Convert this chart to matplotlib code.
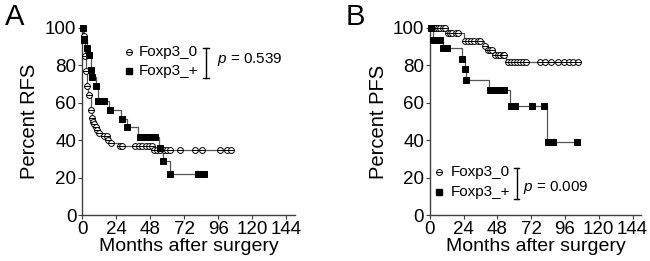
import numpy as np
import matplotlib
matplotlib.use('Agg')
import matplotlib.pyplot as plt
from matplotlib.path import Path

plt.rcParams['font.family'] = ['Liberation Sans', 'DejaVu Sans']
plt.rcParams['mathtext.fontset'] = 'custom'
plt.rcParams['mathtext.rm'] = 'Liberation Sans'
plt.rcParams['mathtext.it'] = 'Liberation Sans:italic'

# 面板 A：RFS
t0_A = [0, 1, 2, 2.5, 3.5, 4.5, 6, 6.8, 7.5, 8.3, 9.3, 10.5, 12, 15, 18, 20, 26, 49.5]
s0_A = [100, 95.5, 85, 77, 69, 64, 56, 52, 50, 48.5, 47, 45.5, 44, 42, 40, 38.3, 36.9, 34.8]
c0_A = [1.4, 2.1, 2.8, 3.8, 5.2, 6.1, 7, 7.8, 8.6, 9.6, 10.8, 12.3, 15.5, 17.5, 18.5, 20.2,
        26.8, 28.5, 37.3, 40, 42.5, 45, 47, 49, 50.5, 53, 55, 57.5, 60, 62, 69, 79.6, 84.3,
        97.2, 102, 104.7]
tp_A = [0, 1.4, 3.3, 5.2, 6.1, 7, 9.9, 11.5, 19.2, 27.7, 31.6, 39.7, 54.5, 56.8, 62]
sp_A = [100, 93.4, 89.3, 85.7, 77.7, 74, 69, 60.7, 56, 51.5, 46.8, 41.9, 36, 29, 21.9]
cp_A = [0.9, 1.4, 3.3, 5.2, 6.1, 7, 9.9, 11.5, 13.5, 15.5, 19.5, 27.9, 31.8, 41, 44.5, 48,
        51.5, 54.7, 56.9, 62.2, 81.5, 85.7]

# 面板 B：PFS
t0_B = [0, 12, 24, 38.5, 41, 46, 54]
s0_B = [100, 97.4, 93, 90.6, 88.3, 85.6, 81.6]
c0_B = [1.5, 3, 4.5, 6, 7.5, 9.5, 11, 13, 14.5, 16, 18.6, 20.2, 25, 27, 29.5, 31.5, 34, 36,
        39, 41.5, 43, 44.5, 46.5, 48.5, 50, 52, 53, 55.5, 57.5, 60, 62, 64, 66, 68.5, 78, 82,
        86, 91, 95, 99, 102, 105]
tp_B = [0, 2, 9.6, 22.6, 25, 25.7, 42, 57, 83.5]
sp_B = [100, 93.6, 89.1, 83.3, 77.9, 72.2, 66.8, 58.4, 38.9]
cp_B = [0.8, 2, 4.5, 7, 9.6, 12, 22.6, 25, 26, 42.7, 45, 49.5, 52.5, 57.5, 60.5, 72.3, 81,
        84, 87.5, 104.2]

groups = ['Foxp3_0', 'Foxp3_+']
x_ticks = [0, 24, 48, 72, 96, 120, 144]
y_ticks = [0, 20, 40, 60, 80, 100]

# 带横线的圆圈符号
circ = Path.make_compound_path(Path.unit_circle(),
                               Path([[-1, 0], [1, 0]], [Path.MOVETO, Path.LINETO]))


def km(ax, t, s, cens, marker, ms, fc):
    t = np.array(t, float)
    s = np.array(s, float)
    cens = np.array(cens, float)
    tt = np.append(t, cens.max())
    ss = np.append(s, s[-1])
    ax.step(tt, ss, where='post', color='#555555', lw=0.9, zorder=2, clip_on=False)
    idx = np.searchsorted(t, cens, side='right') - 1
    ax.plot(cens, s[idx], ls='none', marker=marker, ms=ms, mfc=fc, mec='black',
            mew=0.7, zorder=3, clip_on=False)


fig = plt.figure(figsize=(6.5, 2.61), dpi=100)
axA = fig.add_axes([82 / 650, 46 / 261, 213 / 650, 187 / 261])
axB = fig.add_axes([429.8 / 650, 46 / 261, 211.2 / 650, 187 / 261])

km(axA, t0_A, s0_A, c0_A, circ, 4.2, 'white')
km(axA, tp_A, sp_A, cp_A, 's', 5.0, 'black')
km(axB, t0_B, s0_B, c0_B, circ, 4.2, 'white')
km(axB, tp_B, sp_B, cp_B, 's', 5.0, 'black')

for ax, lab in [(axA, 'Percent RFS'), (axB, 'Percent PFS')]:
    ax.set_xlim(0, 150)
    ax.set_ylim(0, 100)
    ax.set_xticks(x_ticks)
    ax.set_yticks(y_ticks)
    for sp in ['top', 'right']:
        ax.spines[sp].set_visible(False)
    for sp in ['left', 'bottom']:
        ax.spines[sp].set_color('#404040')
        ax.spines[sp].set_linewidth(1.0)
    ax.tick_params(direction='out', length=3, width=0.8, color='#404040', pad=1.0,
                   labelsize=13.5)
    ax.set_ylabel(lab, fontsize=14.5)
    ax.yaxis.set_label_coords(-0.2, 0.5)
    ax.set_xlabel('Months after surgery', fontsize=14)
    ax.xaxis.set_label_coords(0.5, -0.122)
    ax.patch.set_visible(False)


def legend(ax, x, y_top, y_bot, tx, bx, px, py, ptxt):
    tr = ax.transAxes
    ax.plot([x], [y_top], ls='none', marker=circ, ms=4.2, mfc='white', mec='black',
            mew=0.7, transform=tr, clip_on=False)
    ax.plot([x], [y_bot], ls='none', marker='s', ms=5.0, mfc='black', mec='black',
            transform=tr, clip_on=False)
    ax.text(tx, y_top, groups[0], transform=tr, fontsize=11, va='center', ha='left')
    ax.text(tx, y_bot, groups[1], transform=tr, fontsize=11, va='center', ha='left')
    b0 = y_top + 0.022
    b1 = y_bot - 0.035
    ax.plot([bx, bx], [b0, b1], color='black', lw=1.0, transform=tr, clip_on=False)
    for yy in (b0, b1):
        ax.plot([bx - 0.012, bx + 0.012], [yy, yy], color='black', lw=1.0,
                transform=tr, clip_on=False)
    ax.text(px, py, ptxt, transform=tr, fontsize=11, va='center', ha='left')


legend(axA, 0.221, 0.872, 0.770, 0.268, 0.582, 0.632, 0.829, r'$p$ = 0.539')
legend(axB, 0.045, 0.232, 0.121, 0.100, 0.411, 0.443, 0.146, r'$p$ = 0.009')

fig.text(5 / 650, 1 - 25 / 261, 'A', fontsize=21, va='baseline', ha='left')
fig.text(346 / 650, 1 - 25 / 261, 'B', fontsize=21, va='baseline', ha='left')

fig.savefig('out.png', dpi=100)
